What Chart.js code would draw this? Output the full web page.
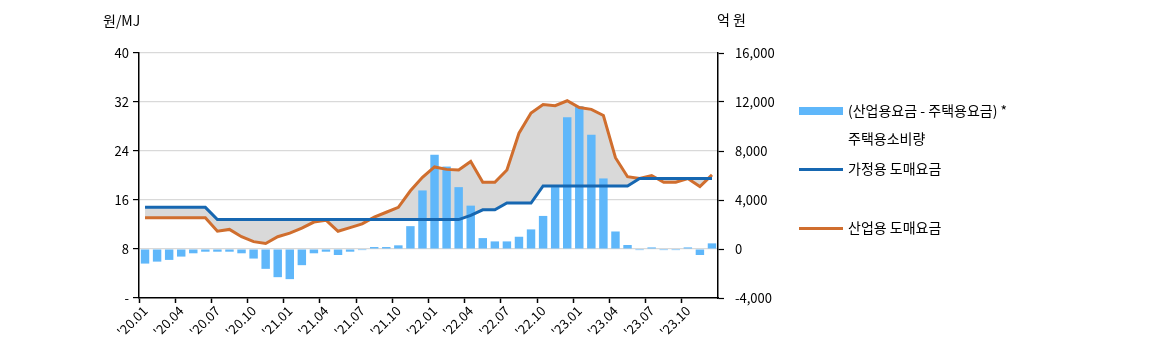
<!DOCTYPE html>
<html><head><meta charset="utf-8">
<script src="https://cdn.jsdelivr.net/npm/chart.js@4/dist/chart.umd.min.js"></script>
<style>
html,body{margin:0;padding:0;background:#fff;}
#wrap{position:relative;width:1152px;height:356px;font-family:"Noto Sans CJK KR","Noto Sans",sans-serif;color:#000;}
canvas{position:absolute;left:0;top:0;}
.t{position:absolute;font-size:14px;white-space:nowrap;line-height:1;}
.sw{position:absolute;}
</style></head>
<body><div id="wrap"><canvas id="c" width="1152" height="356"></canvas>
<div class="t" style="left:103px;top:13px;">원/MJ</div>
<div class="t" style="left:717px;top:12px;">억 원</div>
<div class="sw" style="left:799px;top:107px;width:44px;height:8px;background:#5FB7FA;"></div>
<div class="t" style="left:848px;top:103px;">(산업용요금 - 주택용요금) *</div>
<div class="t" style="left:848px;top:131px;">주택용소비량</div>
<div class="sw" style="left:799px;top:168px;width:44px;height:3px;background:#1667B1;"></div>
<div class="t" style="left:848px;top:161px;">가정용 도매요금</div>
<div class="sw" style="left:799px;top:227px;width:44px;height:3px;background:#D06E2E;"></div>
<div class="t" style="left:848px;top:220px;">산업용 도매요금</div>
</div>
<script>
const categories = [];
for (let y = 20; y <= 23; y++) for (let m = 1; m <= 12; m++) categories.push("'" + y + "." + String(m).padStart(2, '0'));

const diffTimesResidential = [-1190,-1030,-890,-620,-350,-220,-220,-220,-350,-780,-1620,-2300,-2460,-1320,-350,-220,-490,-220,-90,160,160,300,1865,4780,7700,6730,5050,3540,890,620,620,1000,1600,2700,5050,10760,11650,9325,5760,1430,325,-90,130,-90,-90,130,-490,460];
const householdWholesale = [14.8,14.8,14.8,14.8,14.8,14.8,12.8,12.8,12.8,12.8,12.8,12.8,12.8,12.8,12.8,12.8,12.8,12.8,12.8,12.8,12.8,12.8,12.8,12.8,12.8,12.8,12.8,13.5,14.4,14.4,15.5,15.5,15.5,18.3,18.3,18.3,18.3,18.3,18.3,18.3,18.3,19.5,19.5,19.5,19.5,19.5,19.5,19.5];
const industrialWholesale = [13.1,13.1,13.1,13.1,13.1,13.1,10.9,11.2,10.0,9.2,8.9,10.0,10.6,11.4,12.4,12.7,10.9,11.5,12.1,13.2,14.0,14.8,17.5,19.7,21.4,21.0,20.9,22.3,18.9,18.9,20.9,26.9,30.2,31.6,31.4,32.2,31.1,30.8,29.8,22.9,19.8,19.5,20.0,18.9,18.9,19.5,18.2,20.1];
const leftTicks = [0, 8, 16, 24, 32, 40];
const rightTicks = [-4000, 0, 4000, 8000, 12000, 16000];

const FONT = {family: '"Noto Sans CJK KR","Noto Sans",sans-serif', size: 13};

new Chart(document.getElementById('c'), {
  data: {
    labels: categories,
    datasets: [
      {type: 'bar', label: '(산업용요금 - 주택용요금) * 주택용소비량', data: diffTimesResidential, yAxisID: 'y2',
       backgroundColor: '#5FB7FA', barPercentage: 0.7, categoryPercentage: 1.0, order: 2},
      {type: 'line', label: '가정용 도매요금', data: householdWholesale, yAxisID: 'y',
       borderColor: '#1667B1', borderWidth: 3, pointRadius: 0, tension: 0, fill: false, order: 0},
      {type: 'line', label: '산업용 도매요금', data: industrialWholesale, yAxisID: 'y',
       borderColor: '#D06E2E', borderWidth: 3, pointRadius: 0, tension: 0, fill: false, order: 0},
      {type: 'line', label: 'fill', data: industrialWholesale, yAxisID: 'y',
       borderWidth: 0, borderColor: 'rgba(0,0,0,0)', pointRadius: 0, tension: 0,
       fill: {target: 1, above: '#D9D9D9', below: '#D9D9D9'}, order: 5}
    ]
  },
  options: {
    responsive: false,
    animation: false,
    layout: {padding: {left: 0, right: 364, top: 53, bottom: 0}},
    plugins: {legend: {display: false}, tooltip: {enabled: false}},
    scales: {
      x: {
        type: 'category',
        offset: true,
        afterFit: s => { s.height = 58; },
        border: {color: '#000', width: 1.5},
        grid: {offset: true, drawOnChartArea: false, drawTicks: true, tickLength: 5,
               tickColor: ctx => (ctx.index % 3 === 0 ? '#000' : 'rgba(0,0,0,0)'), tickWidth: 1.5},
        ticks: {autoSkip: false, maxRotation: 45, minRotation: 45, padding: 0, color: '#000', font: FONT,
                callback: (v, i) => (i % 3 === 0 ? categories[i] : '')}
      },
      y: {
        position: 'left', min: 0, max: 40,
        afterFit: s => { s.width = 139; },
        afterBuildTicks: s => { s.ticks = leftTicks.map(v => ({value: v})); },
        border: {color: '#000', width: 1.5},
        grid: {color: ctx => (ctx.tick && ctx.tick.value === 0 ? 'rgba(0,0,0,0)' : '#D9D9D9'), lineWidth: 1.2,
               tickColor: '#000', tickLength: 6, tickWidth: 1.2},
        ticks: {padding: 4, color: '#000', font: FONT, callback: v => (v === 0 ? '-' : String(v))}
      },
      y2: {
        position: 'right', min: -4000, max: 16000,
        afterFit: s => { s.width = 70; },
        afterBuildTicks: s => { s.ticks = rightTicks.map(v => ({value: v})); },
        border: {color: '#000', width: 1.5},
        grid: {drawOnChartArea: false, tickColor: '#000', tickLength: 6, tickWidth: 1.2},
        ticks: {padding: 11, color: '#000', font: FONT, callback: v => v.toLocaleString('en-US')}
      }
    }
  }
});
</script></body></html>
